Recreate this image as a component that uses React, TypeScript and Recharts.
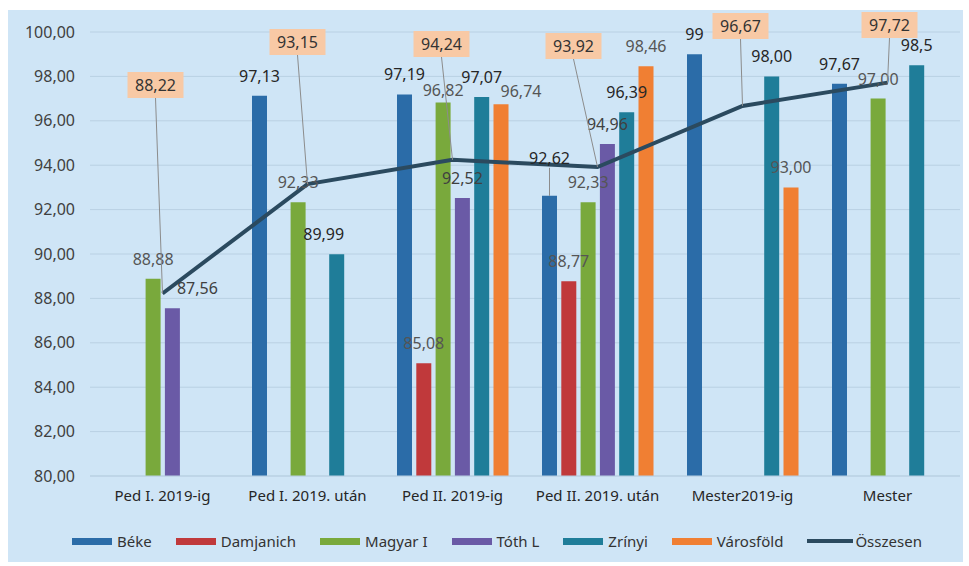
import React from 'react';
import { ComposedChart, Bar, Line, XAxis, YAxis, CartesianGrid, Legend, LabelList } from 'recharts';

const categories = ['Ped I. 2019-ig', 'Ped I. 2019. után', 'Ped II. 2019-ig', 'Ped II. 2019. után', 'Mester2019-ig', 'Mester'];
const beke = [null, 97.13, 97.19, 92.62, 99, 97.67];
const damjanich = [null, null, 85.08, 88.77, null, null];
const magyar = [88.88, 92.33, 96.82, 92.33, null, 97.0];
const toth = [87.56, null, 92.52, 94.96, null, null];
const zrinyi = [null, 89.99, 97.07, 96.39, 98.0, 98.5];
const varosfold = [null, null, 96.74, 98.46, 93.0, null];
const osszesen = [88.22, 93.15, 94.24, 93.92, 96.67, 97.72];
const yTicks = [80, 82, 84, 86, 88, 90, 92, 94, 96, 98, 100];

// cells whose label was shown with fewer decimals in the original
const labelDigits: Record<string, number> = { 'beke-4': 0, 'zrinyi-5': 1 };

// hand-moved labels in the original: [dx, dy]
const labelNudge: Record<string, [number, number]> = {
  'toth-0': [25, 0],
  'zrinyi-1': [-13, 0],
  'magyar-2': [0, 7],
  'varosfold-2': [20, 7],
  'beke-3': [0, -18],
};

// callout boxes of the total line: x shift from the point, box centre y in chart px
const calloutDx = [-7, -10, -11, -24, -2, 2];
const calloutY = [73, 30, 32, 34, 14, 13];

const series = [
  { key: 'beke', name: 'Béke', color: '#2b6ca8', text: '#262626' },
  { key: 'damjanich', name: 'Damjanich', color: '#c0393b', text: '#555555' },
  { key: 'magyar', name: 'Magyar I', color: '#79a93c', text: '#555555' },
  { key: 'toth', name: 'Tóth L', color: '#6a5aa6', text: '#404040' },
  { key: 'zrinyi', name: 'Zrínyi', color: '#1f7d99', text: '#262626' },
  { key: 'varosfold', name: 'Városföld', color: '#f07f33', text: '#555555' },
];
const values: Record<string, (number | null)[]> = { beke, damjanich, magyar, toth, zrinyi, varosfold };

const data = categories.map((name, i) => {
  const row: Record<string, any> = { name, osszesen: osszesen[i] };
  series.forEach((s) => (row[s.key] = values[s.key][i]));
  return row;
});

const FONT = '"Noto Sans", sans-serif';
const comma = (v: number, d = 2) => v.toFixed(d).replace('.', ',');

const barLabel = (key: string, color: string) => (props: any) => {
  const { x, y, width, value } = props;
  if (value == null) return null;
  // LabelList skips empty cells, so find the category from the value
  const id = `${key}-${values[key].indexOf(Number(value))}`;
  const [dx, dy] = labelNudge[id] ?? [0, 0];
  const bx = Number(x) + Number(width) / 2;
  const cx = bx + dx;
  const cy = Number(y) - 20 + dy;
  return (
    <g>
      {dy < -10 && <line x1={bx} y1={cy + 10} x2={bx} y2={Number(y)} stroke="#8c8c8c" strokeWidth={1} />}
      <text x={cx} y={cy} textAnchor="middle" dominantBaseline="central" fontSize={16} fill={color} fontFamily={FONT}>
        {comma(Number(value), labelDigits[id] ?? 2)}
      </text>
    </g>
  );
};

const Callout = (props: any) => {
  const { x, y, value, index } = props;
  const px = Number(x);
  const py = Number(y);
  const bx = px + calloutDx[index];
  const by = calloutY[index];
  return (
    <g>
      <line x1={bx} y1={by + 13} x2={px} y2={py} stroke="#8c8c8c" strokeWidth={1} />
      <rect x={bx - 28} y={by - 13} width={56} height={26} fill="#f8c9a5" />
      <text x={bx} y={by} textAnchor="middle" dominantBaseline="central" fontSize={16} fill="#333" fontFamily={FONT}>
        {comma(Number(value))}
      </text>
    </g>
  );
};

const LegendBox = () => (
  <div style={{ height: 20, display: 'flex', justifyContent: 'center', alignItems: 'center', fontFamily: FONT, fontSize: 15, color: '#333', paddingLeft: 24 }}>
    {series.map((s) => (
      <span key={s.key} style={{ display: 'flex', alignItems: 'center', marginRight: 24 }}>
        <span style={{ display: 'inline-block', width: 40, height: 7, background: s.color, marginRight: 5 }} />
        {s.name}
      </span>
    ))}
    <span style={{ display: 'flex', alignItems: 'center' }}>
      <span style={{ display: 'inline-block', width: 46, height: 4, background: '#2b4a5f', marginRight: 2 }} />
      Összesen
    </span>
  </div>
);

export default function App() {
  return (
    <div style={{ position: 'absolute', left: 0, top: 0, width: 969, height: 566, background: '#fff' }}>
      <div style={{ position: 'absolute', left: 8, top: 10, width: 955, height: 552, background: '#cfe5f6' }}>
        <ComposedChart
          width={953}
          height={548}
          data={data}
          margin={{ top: 20, right: 3, bottom: 9, left: 0 }}
          barGap={4.3}
          barSize={15}
          style={{ position: 'absolute', left: 2, top: 2 }}
        >
          <CartesianGrid vertical={false} stroke="#b9d0e3" />
          <XAxis
            dataKey="name"
            height={55}
            tickLine={false}
            axisLine={{ stroke: '#b9d0e3' }}
            tick={{ fontSize: 15, fill: '#262626', fontFamily: FONT }}
            tickMargin={8}
            interval={0}
          />
          <YAxis
            width={80}
            domain={[80, 100]}
            ticks={yTicks}
            tickFormatter={(v: number) => comma(v)}
            axisLine={false}
            tickLine={false}
            tickMargin={9}
            tick={{ fontSize: 16, fill: '#404040', fontFamily: FONT }}
          />
          <Legend verticalAlign="bottom" content={<LegendBox />} />
          {series.map((s) => (
            <Bar key={s.key} dataKey={s.key} name={s.name} fill={s.color} isAnimationActive={false}>
              <LabelList dataKey={s.key} content={barLabel(s.key, s.text)} />
            </Bar>
          ))}
          <Line dataKey="osszesen" name="Összesen" stroke="#2b4a5f" strokeWidth={4} dot={false} type="linear" isAnimationActive={false}>
            <LabelList dataKey="osszesen" content={<Callout />} />
          </Line>
        </ComposedChart>
      </div>
    </div>
  );
}
